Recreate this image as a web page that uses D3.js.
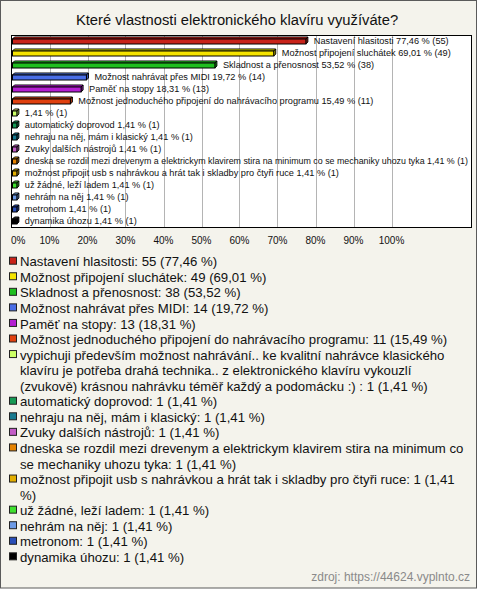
<!DOCTYPE html>
<html><head><meta charset="utf-8">
<script src="https://cdn.jsdelivr.net/npm/d3@7"></script>
<style>
html,body{margin:0;padding:0;background:#fff;}
svg{display:block;font-family:"Liberation Sans",Arial,sans-serif;}
</style></head>
<body>
<svg id="chart" width="480" height="589"></svg>
<script>
const title = "Které vlastnosti elektronického klavíru využíváte?";
const categories = [
  "Nastavení hlasitosti",
  "Možnost připojení sluchátek",
  "Skladnost a přenosnost",
  "Možnost nahrávat přes MIDI",
  "Paměť na stopy",
  "Možnost jednoduchého připojení do nahrávacího programu",
  "vypichuji především možnost nahrávání.. ke kvalitní nahrávce klasického klavíru je potřeba drahá technika.. z elektronického klavíru vykouzlí (zvukově) krásnou nahrávku téměř každý a podomácku :) ",
  "automatický doprovod",
  "nehraju na něj, mám i klasický",
  "Zvuky dalších nástrojů",
  "dneska se rozdil mezi drevenym a elektrickym klavirem stira na minimum co se mechaniky uhozu tyka",
  "možnost připojit usb s nahrávkou a hrát tak i skladby pro čtyři ruce",
  "už žádné, leží ladem",
  "nehrám na něj",
  "metronom",
  "dynamika úhozu"
];
const barLabels = [
  "Nastavení hlasitosti",
  "Možnost připojení sluchátek",
  "Skladnost a přenosnost",
  "Možnost nahrávat přes MIDI",
  "Paměť na stopy",
  "Možnost jednoduchého připojení do nahrávacího programu",
  "",
  "automatický doprovod",
  "nehraju na něj, mám i klasický",
  "Zvuky dalších nástrojů",
  "dneska se rozdil mezi drevenym a elektrickym klavirem stira na minimum co se mechaniky uhozu tyka",
  "možnost připojit usb s nahrávkou a hrát tak i skladby pro čtyři ruce",
  "už žádné, leží ladem",
  "nehrám na něj",
  "metronom",
  "dynamika úhozu"
];
const counts = [55, 49, 38, 14, 13, 11, 1, 1, 1, 1, 1, 1, 1, 1, 1, 1];
const percents = [77.46, 69.01, 53.52, 19.72, 18.31, 15.49, 1.41, 1.41, 1.41, 1.41, 1.41, 1.41, 1.41, 1.41, 1.41, 1.41];
const colors = ["#c8231a","#f5e400","#1fbf1f","#4a6ee6","#b41ed2","#e0400f","#ccff66","#169a55","#177a90","#c25cc6","#e58200","#e2ae00","#3fe02f","#6c9ae6","#2a4fb8","#000000"];
const ticks = [0,10,20,30,40,50,60,70,80,90,100];
const source = "zdroj: https://44624.vyplnto.cz";

const fmt = v => v.toFixed(2).replace(".", ",");
const svg = d3.select("#chart");

svg.append("rect").attr("x",0.5).attr("y",0.5).attr("width",476).attr("height",587.5)
  .attr("fill","#f4f3ec").attr("stroke","#5a5a5a");

svg.append("text").attr("x",237).attr("y",25).attr("text-anchor","middle")
  .attr("font-size","14.75px").attr("fill","#111").text(title);

const box = {x0:11, y0:35, x1:471, y1:227};
svg.append("rect").attr("x",box.x0+0.5).attr("y",box.y0+0.5)
  .attr("width",box.x1-box.x0).attr("height",box.y1-box.y0).attr("fill","#fff");

const x = d3.scaleLinear().domain([0,100]).range([11.5,391.5]);
const y = d3.scaleBand().domain(d3.range(categories.length)).range([box.y0, box.y1]).paddingInner(0).paddingOuter(0);

svg.append("g").selectAll("line").data(ticks.slice(1)).join("line")
  .attr("x1",d=>Math.round(x(d))+0.5).attr("x2",d=>Math.round(x(d))+0.5)
  .attr("y1",box.y0).attr("y2",box.y1).attr("stroke","#b4b4b4");

svg.append("rect").attr("x",box.x0+0.5).attr("y",box.y0+0.5)
  .attr("width",box.x1-box.x0).attr("height",box.y1-box.y0).attr("fill","none").attr("stroke","#000");

const bars = svg.append("g");
const dep = 2;
percents.forEach((p,i)=>{
  const c = y(i) + y.bandwidth()/2;
  const x0 = x(0)+1, x1 = Math.max(x(p), x0+4);
  const top = c-2, bot = c+3;
  const col = d3.color(colors[i]);
  const light = colors[i]==="#000000" ? "#333" : col.brighter(0.6).formatHex();
  const dark = col.darker(0.5).formatHex();
  bars.append("path").attr("d",`M${x0},${top}L${x0+dep},${top-dep}L${x1+dep},${top-dep}L${x1},${top}Z`)
    .attr("fill",light).attr("stroke","#000").attr("stroke-width",1);
  bars.append("path").attr("d",`M${x1},${top}L${x1+dep},${top-dep}L${x1+dep},${bot-dep}L${x1},${bot}Z`)
    .attr("fill",dark).attr("stroke","#000").attr("stroke-width",1);
  bars.append("rect").attr("x",x0).attr("y",top).attr("width",x1-x0).attr("height",bot-top)
    .attr("fill",colors[i]).attr("stroke","#000").attr("stroke-width",1);
  const lbl = (barLabels[i] ? barLabels[i]+" " : "") + fmt(p) + " % (" + counts[i] + ")";
  const lx = x1+dep+6;
  const t = bars.append("text").attr("x",lx).attr("y",c+3.3).attr("font-size","9.2px")
    .attr("fill","#111").text(lbl);
  const w = t.node().getComputedTextLength();
  if (lx + w > 468) {
    const fs = Math.floor(9.2 * (468 - lx) / w * 100) / 100;
    t.attr("font-size", fs + "px");
  }
});

svg.append("g").selectAll("text").data(ticks).join("text")
  .attr("x",d=>d===0 ? x(0)-0.5 : x(d)).attr("y",244)
  .attr("text-anchor",d=>d===0?"start":"middle").attr("font-size","10px").attr("fill","#111")
  .text(d=>d+"%");

// legend
const leg = svg.append("g");
const lineH = 15.56;
let ly = 261.7;
const maxW = 447;
categories.forEach((cat,i)=>{
  const full = cat + ": " + counts[i] + " (" + fmt(percents[i]) + " %)";
  leg.append("rect").attr("x",9.5).attr("y",ly-4.5).attr("width",7).attr("height",7)
    .attr("fill",colors[i]).attr("stroke","#222");
  const words = full.split(" ");
  const t = leg.append("text").attr("font-size","13.2px").attr("fill","#111");
  let line = [];
  let ts = t.append("tspan").attr("x",20).attr("y",ly+4.6);
  words.forEach(w=>{
    line.push(w);
    ts.text(line.join(" "));
    if (ts.node().getComputedTextLength() > maxW && line.length>1) {
      line.pop();
      ts.text(line.join(" "));
      line = [w];
      ly += lineH;
      ts = t.append("tspan").attr("x",20).attr("y",ly+4.6).text(w);
    }
  });
  ly += lineH;
});

svg.append("text").attr("x",470).attr("y",581).attr("text-anchor","end")
  .attr("font-size","12px").attr("fill","#8a8a8a").text(source);
</script>
</body></html>
